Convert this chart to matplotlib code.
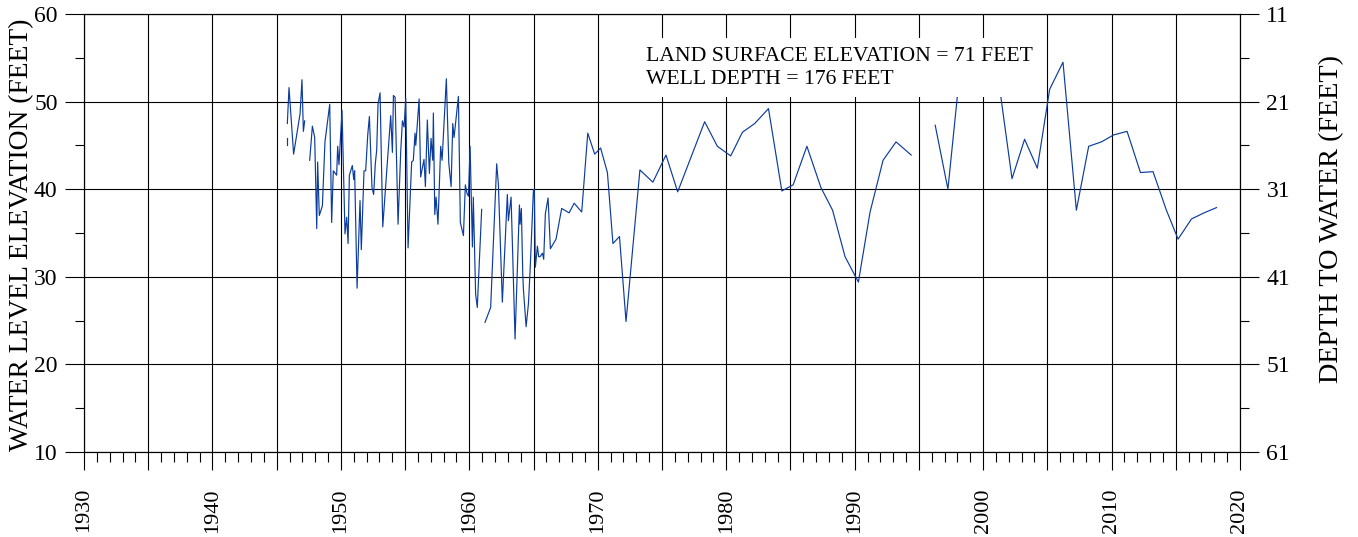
import matplotlib
matplotlib.use("Agg")
import matplotlib.pyplot as plt
from matplotlib.ticker import MultipleLocator, FixedLocator, FuncFormatter

# water level record, split where the hydrograph has gaps
yr_dash = [1945.80, 1945.80]
wl_dash = [45.9, 45.1]

yr_1946 = [1945.83, 1945.96, 1946.32, 1946.82, 1946.97, 1947.08, 1947.18]
wl_1946 = [47.5, 51.6, 44.0, 48.6, 52.5, 46.6, 47.8]

yr_1948 = [1947.57, 1947.78, 1947.96, 1948.12, 1948.19, 1948.32, 1948.56, 1948.76, 1949.13, 1949.28,
           1949.41, 1949.67, 1949.75, 1949.85, 1950.09, 1950.32, 1950.45, 1950.56, 1950.66, 1950.89,
           1951.00, 1951.07, 1951.26, 1951.49, 1951.59, 1951.80, 1951.93, 1952.09, 1952.22, 1952.42,
           1952.55, 1952.68, 1952.79, 1952.89, 1953.05, 1953.26, 1953.57, 1953.88, 1954.01, 1954.09,
           1954.22, 1954.45, 1954.66, 1954.79, 1954.92, 1955.05, 1955.23, 1955.51, 1955.64, 1955.77,
           1955.83, 1956.09, 1956.21, 1956.47, 1956.58, 1956.73, 1956.89, 1957.02, 1957.15, 1957.20,
           1957.31, 1957.41, 1957.56, 1957.77, 1957.88, 1958.21, 1958.40, 1958.58, 1958.71, 1958.81,
           1959.15, 1959.30, 1959.54, 1959.69, 1959.82, 1959.93, 1960.06, 1960.24, 1960.31, 1960.49,
           1960.62, 1960.96]
wl_1948 = [43.3, 47.2, 45.9, 35.5, 43.1, 37.0, 38.1, 45.4, 49.7, 36.2,
           42.1, 41.6, 44.9, 42.8, 49.0, 34.9, 36.8, 33.8, 41.6, 42.7,
           41.1, 42.1, 28.7, 38.7, 33.1, 42.1, 42.1, 46.2, 48.3, 40.2,
           39.4, 42.9, 44.5, 49.7, 51.0, 35.7, 42.1, 48.4, 44.2, 50.7,
           50.5, 36.0, 44.4, 47.8, 47.1, 50.4, 33.3, 43.1, 43.3, 46.4,
           45.0, 50.3, 41.4, 43.4, 40.3, 47.9, 41.8, 45.8, 43.3, 48.7,
           37.1, 39.1, 36.0, 44.9, 43.3, 52.6, 43.0, 40.3, 47.5, 45.9,
           50.6, 36.2, 34.7, 40.5, 39.5, 39.2, 44.9, 33.4, 39.1, 28.0,
           26.5, 37.7]

yr_1961 = [1961.22, 1961.66, 1962.13, 1962.26, 1962.57, 1962.96, 1963.04, 1963.25, 1963.56, 1963.90,
           1963.95, 1964.05, 1964.16, 1964.21, 1964.42, 1964.60, 1964.73, 1964.99, 1965.06, 1965.14,
           1965.30, 1965.40, 1965.51, 1965.69, 1965.79, 1965.92, 1966.13, 1966.31, 1966.75, 1967.19,
           1967.77, 1968.16, 1968.75, 1969.22, 1969.76, 1970.22, 1970.75, 1971.18, 1971.69, 1972.20,
           1973.28, 1974.29, 1975.31, 1976.22, 1978.32, 1979.31, 1980.35, 1981.26, 1982.22, 1983.29,
           1984.33, 1985.21, 1986.28, 1987.37, 1988.28, 1989.25, 1990.29, 1991.20, 1992.21, 1993.22,
           1994.40]
wl_1961 = [24.8, 26.5, 42.9, 40.6, 27.1, 39.4, 36.4, 39.1, 22.9, 38.2,
           36.0, 37.8, 30.3, 28.6, 24.3, 26.9, 30.7, 39.9, 40.0, 31.1,
           33.5, 32.3, 32.3, 32.7, 32.0, 37.2, 39.0, 33.2, 34.3, 37.8,
           37.3, 38.4, 37.4, 46.4, 44.0, 44.7, 41.9, 33.8, 34.6, 24.9,
           42.2, 40.8, 43.9, 39.7, 47.7, 44.9, 43.8, 46.5, 47.5, 49.2,
           39.8, 40.5, 44.9, 40.2, 37.6, 32.3, 29.4, 37.4, 43.3, 45.4,
           43.9]

yr_1996 = [1996.27, 1997.26, 1998.30, 1999.30, 2000.30, 2001.30, 2002.25, 2003.23, 2004.22, 2005.18,
           2006.22, 2007.26, 2008.22, 2009.21, 2010.17, 2011.21, 2012.25, 2013.23, 2014.27, 2015.18,
           2016.22, 2017.20, 2018.17]
wl_1996 = [47.3, 40.0, 55.0, 56.0, 55.0, 51.4, 41.2, 45.7, 42.4, 51.4,
           54.5, 37.6, 44.9, 45.4, 46.2, 46.6, 41.9, 42.0, 37.6, 34.3,
           36.6, 37.3, 37.9]

segments = [(yr_dash, wl_dash), (yr_1946, wl_1946), (yr_1948, wl_1948),
            (yr_1961, wl_1961), (yr_1996, wl_1996)]

depth_ticks = [11, 21, 31, 41, 51, 61]
depth_minor = [16, 26, 36, 46, 56]
info_text = "LAND SURFACE ELEVATION = 71 FEET\nWELL DEPTH = 176 FEET"

plt.rcParams["font.family"] = ["Liberation Serif", "DejaVu Serif"]

W, H = 1358, 537
fig = plt.figure(figsize=(W / 100, H / 100), dpi=100)
ax = fig.add_axes([84 / W, 1 - 452 / H, (1240 - 84) / W, (452 - 14) / H])

for yrs, lvl in segments:
    ax.plot(yrs, lvl, color="#0c3c9e", lw=0.85, zorder=3)

ax.set_xlim(1930, 2020)
ax.set_ylim(10, 60)
ax.set_axisbelow(True)
ax.xaxis.set_major_locator(MultipleLocator(5))
ax.xaxis.set_minor_locator(MultipleLocator(1))
ax.xaxis.set_major_formatter(FuncFormatter(lambda v, p: f"{int(round(v))}" if round(v) % 10 == 0 else ""))
ax.yaxis.set_major_locator(MultipleLocator(10))
ax.yaxis.set_minor_locator(MultipleLocator(5))
ax.grid(which="major", color="black", lw=0.8)

ax.tick_params(axis="x", which="major", direction="out", length=13, width=0.8,
               pad=13, labelsize=16, labelrotation=90)
ax.tick_params(axis="x", which="minor", direction="out", length=7, width=0.8)
ax.tick_params(axis="y", which="major", direction="out", length=14, width=0.8,
               pad=5, labelsize=17)
ax.tick_params(axis="y", which="minor", direction="out", length=6.5, width=0.8)
for s in ax.spines.values():
    s.set_linewidth(0.8)

ax2 = ax.twinx()
ax2.set_ylim(61, 11)
ax2.yaxis.set_major_locator(FixedLocator(depth_ticks))
ax2.yaxis.set_minor_locator(FixedLocator(depth_minor))
ax2.tick_params(axis="y", which="major", direction="out", length=14, width=0.8,
                pad=5, labelsize=17)
ax2.tick_params(axis="y", which="minor", direction="out", length=6.5, width=0.8)
for s in ax2.spines.values():
    s.set_linewidth(0.8)

fig.text(22 / W, 1 - 235 / H, "WATER LEVEL ELEVATION (FEET)", rotation=90,
         ha="center", va="center", fontsize=19.8)
fig.text(1332 / W, 1 - 219 / H, "DEPTH TO WATER (FEET)", rotation=90,
         ha="center", va="center", fontsize=20.3)

fig.text(646 / W, 1 - 47 / H, info_text, ha="left", va="top", fontsize=15.6,
         linespacing=1.25,
         bbox=dict(boxstyle="square,pad=0.4", facecolor="white", edgecolor="none"))

fig.savefig("out.png", dpi=100)
